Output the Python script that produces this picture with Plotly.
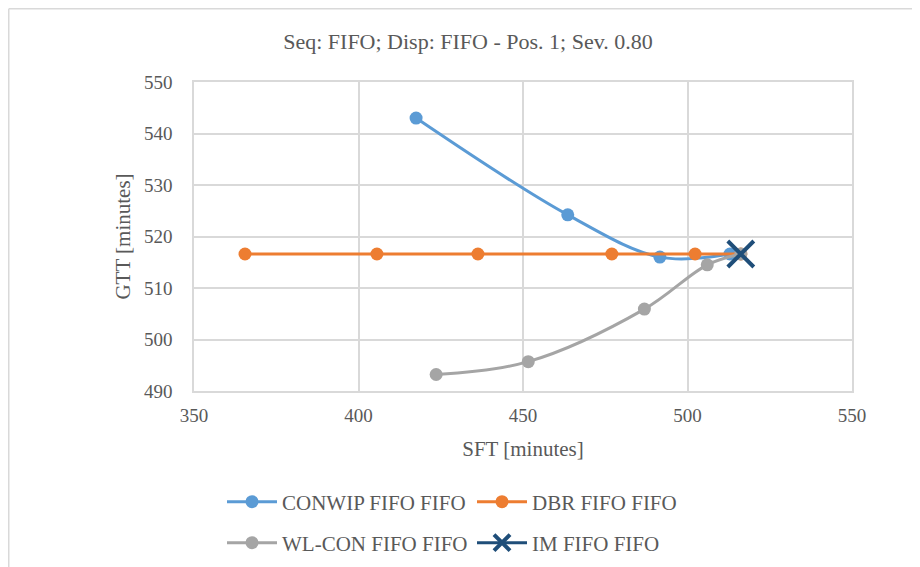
import plotly.graph_objects as go

# ---- data ----
conwip_sft = [417.5, 463.6, 491.6, 512.9]
conwip_gtt = [543.0, 524.2, 516.0, 516.6]

dbr_sft = [365.5, 405.6, 436.3, 477.0, 502.3, 516.2]
dbr_gtt = [516.6, 516.6, 516.6, 516.6, 516.6, 516.6]

wlcon_sft = [423.6, 451.6, 486.9, 506.0, 516.2]
wlcon_gtt = [493.2, 495.7, 505.9, 514.5, 516.6]

im_sft = [516.2]
im_gtt = [516.6]

x_ticks = [350, 400, 450, 500, 550]
y_ticks = [490, 500, 510, 520, 530, 540, 550]

title_text = "Seq: FIFO; Disp: FIFO - Pos. 1; Sev. 0.80"
x_title = "SFT [minutes]"
y_title = "GTT [minutes]"

FONT = "Liberation Serif"
TXT = "#595959"
GRID = "#d9d9d9"

fig = go.Figure()
fig.add_trace(go.Scatter(x=conwip_sft, y=conwip_gtt, name="CONWIP FIFO FIFO",
                         mode="lines+markers", line=dict(color="#5B9BD5", width=3, shape="spline", smoothing=1),
                         marker=dict(size=13, color="#5B9BD5"), legend="legend"))
fig.add_trace(go.Scatter(x=dbr_sft, y=dbr_gtt, name="DBR FIFO FIFO",
                         mode="lines+markers", line=dict(color="#ED7D31", width=3, shape="spline", smoothing=1),
                         marker=dict(size=13, color="#ED7D31"), legend="legend"))
fig.add_trace(go.Scatter(x=wlcon_sft, y=wlcon_gtt, name="WL-CON FIFO FIFO",
                         mode="lines+markers", line=dict(color="#A5A5A5", width=3, shape="spline", smoothing=1),
                         marker=dict(size=13, color="#A5A5A5"), legend="legend2"))
fig.add_trace(go.Scatter(x=im_sft, y=im_gtt, name="IM FIFO FIFO",
                         mode="lines+markers", line=dict(color="#1F4E79", width=3),
                         marker=dict(size=26, symbol="x-thin", color="#1F4E79",
                                     line=dict(color="#1F4E79", width=4)), legend="legend2"))

# page body adds an 8px offset; layout below is expressed in figure pixels
L, T = 186, 74
pw, ph = 658, 309
W, H = 920, 567
R, B = W - L - pw, H - T - ph
bottom = T + ph

leg_common = dict(orientation="h", entrywidth=185, entrywidthmode="pixels",
                  font=dict(family=FONT, size=21, color=TXT), bgcolor="rgba(0,0,0,0)",
                  xanchor="left", yanchor="middle", itemwidth=50)
fig.update_layout(
    width=W, height=H,
    margin=dict(l=L, r=R, t=T, b=B, autoexpand=False),
    paper_bgcolor="white", plot_bgcolor="white",
    title=dict(text=title_text, x=0.5, xref="container", xanchor="center",
               y=1 - 33 / H, yanchor="middle", font=dict(family=FONT, size=22, color=TXT)),
    legend=dict(x=(214 - L) / pw, y=(bottom - 494) / ph, **leg_common),
    legend2=dict(x=(214 - L) / pw, y=(bottom - 535) / ph, **leg_common),
    font=dict(family=FONT, color=TXT),
)
fig.update_xaxes(range=[350, 550], tickvals=x_ticks, showgrid=True, gridcolor=GRID, gridwidth=1.5,
                 showline=True, linecolor=GRID, linewidth=1.5, mirror=True, zeroline=False,
                 ticks="", ticklabelstandoff=6, tickfont=dict(family=FONT, size=19, color=TXT),
                 title=dict(text=x_title, font=dict(family=FONT, size=21, color=TXT), standoff=17))
fig.update_yaxes(range=[490, 550], tickvals=y_ticks, showgrid=True, gridcolor=GRID, gridwidth=1.5,
                 showline=True, linecolor=GRID, linewidth=1.5, mirror=True, zeroline=False,
                 ticks="", ticklabelstandoff=16, tickfont=dict(family=FONT, size=19, color=TXT),
                 title=dict(text=y_title, font=dict(family=FONT, size=21, color=TXT), standoff=8))

# outer chart border (top and left visible)
fig.add_shape(type="line", xref="paper", yref="paper", x0=(0.75 - L) / pw, x1=(W + 5 - L) / pw,
              y0=(bottom - 0.75) / ph, y1=(bottom - 0.75) / ph, line=dict(color=GRID, width=1.5))
fig.add_shape(type="line", xref="paper", yref="paper", x0=(0.75 - L) / pw, x1=(0.75 - L) / pw,
              y0=(bottom - 0.75) / ph, y1=(bottom - H - 5) / ph, line=dict(color=GRID, width=1.5))

fig.write_html("out.html")
